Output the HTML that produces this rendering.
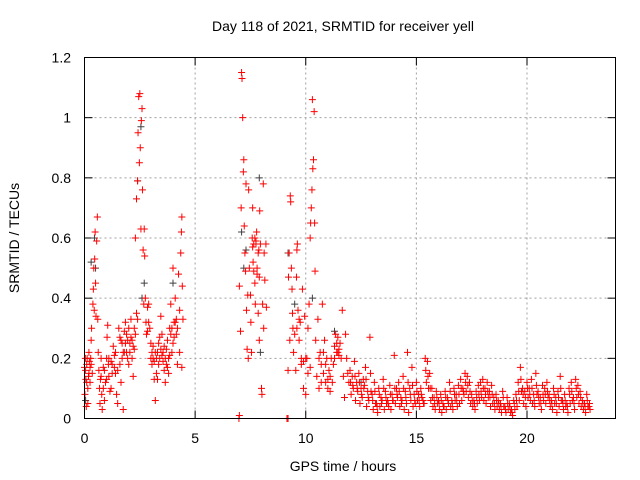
<!DOCTYPE html>
<html><head><meta charset="utf-8"><style>
body{margin:0;background:#fff}
svg{display:block;font-family:"Liberation Sans",sans-serif}
</style></head><body>
<svg id="chart" width="640" height="480">
<text x="343" y="31" font-size="14" text-anchor="middle">Day 118 of 2021, SRMTID for receiver yell</text>
<text x="343" y="471" font-size="14" text-anchor="middle">GPS time / hours</text>
<text transform="translate(19,238) rotate(-90)" font-size="14" text-anchor="middle">SRMTID / TECUs</text>
<g id="grid"></g>
<g id="ticks"></g>
<g id="dark"></g>
<g id="red"></g>
<rect x="84.5" y="57.5" width="531" height="361" fill="none" stroke="#000"/>
</svg>
<script>
const xTicks=[0,5,10,15,20];
const yTicks=[0,0.2,0.4,0.6,0.8,1,1.2];
const yTickLabels=["0","0.2","0.4","0.6","0.8","1","1.2"];
const redPoints=[[0,0.17],[0.02,0.08],[0.04,0.2],[0.06,0.13],[0.08,0.04],[0.1,0.18],[0.12,0.2],[0.15,0.1],[0.18,0.14],[0.2,0.22],[0.22,0.19],[0.25,0.12],[0.28,0.2],[0.3,0.26],[0.32,0.3],[0.35,0.15],[0.38,0.38],[0.4,0.43],[0.42,0.5],[0.44,0.36],[0.46,0.53],[0.48,0.62],[0.5,0.45],[0.52,0.34],[0.55,0.59],[0.58,0.67],[0.6,0.33],[0.62,0.22],[0.65,0.16],[0.68,0.1],[0.7,0.05],[0.72,0.13],[0.75,0.2],[0.78,0.08],[0.8,0.03],[0.85,0.1],[0.9,0.06],[0.95,0.12],[1.0,0.2],[1.02,0.27],[1.05,0.31],[1.08,0.18],[1.1,0.14],[1.15,0.09],[1.2,0.19],[1.25,0.15],[1.3,0.24],[1.35,0.21],[1.4,0.15],[1.45,0.08],[1.5,0.05],[1.55,0.3],[1.6,0.18],[1.65,0.12],[1.7,0.25],[1.75,0.03],[1.8,0.22],[1.85,0.32],[1.9,0.28],[1.95,0.26],[2.0,0.3],[2.05,0.25],[2.1,0.33],[2.15,0.2],[2.2,0.14],[2.25,0.23],[2.3,0.28],[2.35,0.35],[2.4,0.33],[0.15,0.05],[0.25,0.17],[0.9,0.16],[1.2,0.1],[1.35,0.17],[1.6,0.27],[1.7,0.2],[1.9,0.22],[2.0,0.18],[2.1,0.27],[2.2,0.24],[1.8,0.29],[0.05,0.16],[0.1,0.12],[0.2,0.15],[0.3,0.18],[0.75,0.14],[0.85,0.17],[1.0,0.13],[1.1,0.2],[1.25,0.18],[1.4,0.22],[1.5,0.16],[1.65,0.26],[1.75,0.22],[1.85,0.25],[1.95,0.2],[2.05,0.22],[2.15,0.26],[2.25,0.3],
[2.3,0.6],[2.35,0.73],[2.4,0.79],[2.42,0.95],[2.45,1.07],[2.48,0.85],[2.5,1.08],[2.52,0.9],[2.55,0.63],[2.57,0.99],[2.6,1.03],[2.62,0.76],[2.65,0.56],[2.68,0.38],[2.7,0.63],[2.72,0.54],[2.75,0.4],[2.78,0.32],[2.8,0.28],[2.85,0.37],[2.9,0.38],[2.95,0.3],[3.0,0.2],[3.05,0.18],[3.1,0.24],[3.15,0.13],[3.2,0.06],[3.25,0.15],[3.3,0.22],[3.35,0.25],[3.4,0.2],[3.45,0.34],[3.5,0.28],[3.55,0.19],[3.6,0.24],[3.65,0.12],[3.7,0.18],[3.75,0.26],[3.8,0.15],[3.85,0.3],[3.9,0.38],[3.95,0.22],[4.0,0.5],[4.05,0.32],[4.1,0.4],[4.15,0.28],[4.2,0.18],[4.25,0.48],[4.3,0.36],[4.35,0.55],[4.38,0.62],[4.4,0.67],[4.42,0.44],[4.45,0.33],[3.0,0.25],[3.1,0.2],[3.2,0.22],[3.3,0.13],[3.4,0.27],[3.5,0.21],[3.6,0.16],[3.7,0.23],[3.8,0.2],[3.9,0.28],[4.0,0.25],[4.1,0.32],[4.2,0.3],[4.3,0.22],[4.4,0.17],[2.9,0.32],[2.85,0.29],[3.05,0.22],[3.15,0.19],[3.25,0.2],[3.35,0.18],[3.45,0.23],[3.55,0.22],[3.65,0.2],[3.75,0.17],[3.85,0.21],[3.95,0.3],[4.05,0.27],[4.15,0.33],
[6.98,0.0],[7.0,0.01],[9.15,0.0],[9.2,0.0],
[7.0,0.44],[7.05,0.29],[7.08,0.7],[7.1,1.15],[7.12,1.13],[7.15,1.0],[7.18,0.82],[7.2,0.86],[7.22,0.64],[7.25,0.55],[7.28,0.49],[7.3,0.78],[7.32,0.36],[7.35,0.23],[7.38,0.41],[7.4,0.2],[7.42,0.76],[7.45,0.5],[7.5,0.41],[7.52,0.32],[7.55,0.22],[7.58,0.6],[7.6,0.7],[7.62,0.52],[7.65,0.58],[7.7,0.45],[7.72,0.38],[7.75,0.59],[7.78,0.62],[7.8,0.48],[7.85,0.35],[7.88,0.56],[7.9,0.26],[7.92,0.69],[7.95,0.58],[8.0,0.1],[8.02,0.08],[8.05,0.38],[8.08,0.78],[8.1,0.3],[8.12,0.55],[8.15,0.46],[8.2,0.58],[8.22,0.37],[7.6,0.57],[7.7,0.6],[7.8,0.5],[7.85,0.55],[7.75,0.58],[7.65,0.49],[7.9,0.47],
[9.2,0.16],[9.22,0.47],[9.25,0.55],[9.28,0.26],[9.3,0.74],[9.32,0.72],[9.35,0.5],[9.38,0.43],[9.4,0.35],[9.42,0.3],[9.45,0.22],[9.5,0.28],[9.55,0.16],[9.58,0.47],[9.6,0.56],[9.62,0.58],[9.65,0.36],[9.7,0.26],[9.75,0.32],[9.8,0.2],[9.85,0.43],[9.9,0.1],[9.95,0.34],[10.0,0.08],[10.05,0.2],[10.1,0.3],[10.15,0.38],[10.2,0.6],[10.22,0.65],[10.25,0.7],[10.28,0.76],[10.3,1.06],[10.32,0.83],[10.35,0.86],[10.38,1.02],[10.4,0.65],[10.42,0.49],[10.45,0.26],[10.5,0.14],[10.55,0.33],[10.6,0.1],[10.65,0.22],[10.7,0.18],[10.75,0.38],[10.8,0.15],[10.85,0.26],[10.9,0.12],[10.95,0.2],[11.0,0.1],[11.05,0.16],[11.1,0.09],[11.15,0.2],[11.2,0.12],[11.25,0.18],[11.3,0.24],[11.35,0.28],[11.4,0.22],[11.45,0.27],[11.5,0.21],[11.55,0.25],[11.6,0.2],[11.65,0.36],[11.7,0.14],[11.75,0.07],[11.8,0.28],[11.85,0.2],[11.9,0.15],[11.95,0.12],[9.6,0.3],[9.8,0.18],[10.0,0.2],[10.2,0.17],[10.6,0.2],[10.8,0.22],[11.0,0.13],[11.4,0.25],[11.5,0.23],[9.7,0.33],[9.9,0.19],[10.1,0.15],[10.7,0.12],[10.9,0.18],[11.1,0.14],[11.3,0.2],[11.45,0.22]];
const tailStart=12.0, tailStep=0.1;
const tailA=[.16,.14,.19,.12,.15,.1,.13,.17,.09,.27,.08,.12,.05,.1,.07,.13,.09,.06,.11,.08,.21,.1,.12,.07,.14,.09,.22,.1,.17,.08,.12,.08,.1,.06,.2,.19,.15,.1,.07,.09,.06,.08,.05,.09,.07,.12,.06,.1,.08,.11,.13,.1,.15,.14,.12,.08,.06,.09,.11,.12,.13,.1,.12,.09,.11,.07,.08,.06,.05,.09,.04,.07,.05,.03,.06,.08,.12,.17,.1,.09,.12,.1,.13,.08,.15,.09,.07,.11,.1,.12,.08,.06,.1,.07,.09,.14,.06,.08,.05,.1,.12,.07,.13,.11,.09,.06,.05,.08,.04];
const tailB=[.08,.1,.06,.09,.05,.07,.11,.04,.06,.09,.03,.05,.02,.04,.06,.03,.05,.04,.03,.06,.05,.07,.04,.06,.03,.05,.02,.06,.04,.05,.06,.04,.07,.05,.12,.1,.06,.04,.03,.05,.03,.02,.04,.03,.05,.04,.03,.06,.04,.05,.06,.08,.09,.07,.05,.04,.03,.05,.06,.07,.06,.05,.07,.04,.05,.03,.04,.03,.02,.04,.02,.03,.02,.01,.03,.04,.06,.09,.05,.04,.07,.06,.05,.04,.08,.05,.03,.06,.05,.07,.04,.03,.05,.02,.04,.06,.03,.04,.02,.05,.06,.03,.07,.05,.04,.03,.02,.04,.03];
const tailC=[.12,.11,.14,.1,.12,.08,.1,.13,.07,.15,.06,.09,.04,.08,.05,.1,.07,.05,.08,.06,.1,.08,.09,.05,.1,.07,.12,.08,.11,.06,.09,.06,.08,.05,.16,.14,.1,.07,.05,.07,.05,.06,.04,.07,.06,.09,.05,.08,.06,.08,.1,.09,.12,.11,.09,.06,.05,.07,.08,.09,.1,.08,.09,.07,.08,.05,.06,.05,.04,.07,.03,.05,.04,.02,.05,.06,.09,.13,.08,.07,.1,.08,.1,.06,.11,.07,.05,.08,.08,.09,.06,.05,.08,.05,.07,.1,.05,.06,.04,.08,.09,.05,.1,.08,.07,.05,.04,.06,.05];
const darkPoints=[[0.05,0.06],[0.3,0.52],[0.45,0.6],[0.5,0.5],[2.4,0.79],[2.55,0.97],[2.6,0.4],[2.7,0.45],[4.0,0.45],[7.1,0.62],[7.2,0.5],[7.3,0.56],[7.9,0.8],[7.95,0.22],[9.2,0.55],[9.5,0.38],[10.3,0.4],[11.3,0.29],[12.5,0.12],[16,0.06]];
const X=t=>84.5+t*(531/24), Y=v=>418.5-v*(361/1.2);
const NS="http://www.w3.org/2000/svg";
function mk(tag,attrs,parent){const e=document.createElementNS(NS,tag);for(const k in attrs)e.setAttribute(k,attrs[k]);parent.appendChild(e);return e;}
const grid=document.getElementById('grid'),ticks=document.getElementById('ticks');
xTicks.forEach(t=>{
 if(t>0){const g=mk('line',{x1:X(t),x2:X(t),y1:57.5,y2:418.5,stroke:'#a0a0a0','stroke-dasharray':'2,3'},grid);
 
 }
 mk('line',{x1:X(t),x2:X(t),y1:418.5,y2:410.5,stroke:'#000'},ticks);
 mk('line',{x1:X(t),x2:X(t),y1:57.5,y2:65.5,stroke:'#000'},ticks);
 const l=mk('text',{x:X(t),y:443,'font-size':14,'text-anchor':'middle'},ticks);l.textContent=t;
 
 
});
yTicks.forEach((v,i)=>{
 if(v>0&&v<1.2){const g=mk('line',{x1:84.5,x2:615.5,y1:Y(v),y2:Y(v),stroke:'#a0a0a0','stroke-dasharray':'2,3'},grid);
 
 }
 mk('line',{x1:84.5,x2:92.5,y1:Y(v),y2:Y(v),stroke:'#000'},ticks);
 mk('line',{x1:615.5,x2:607.5,y1:Y(v),y2:Y(v),stroke:'#000'},ticks);
 const l=mk('text',{x:71,y:Y(v)+5,'font-size':14,'text-anchor':'end'},ticks);l.textContent=yTickLabels[i];
 
 
});
function cross(t,v,col,parent){
 const x=X(t),y=Y(v);
 const p=mk('path',{d:`M${x-3.5} ${y}h7M${x} ${y-3.5}v7`,stroke:col,'stroke-width':1,fill:'none'},parent);
 
 
}
const dark=document.getElementById('dark'),red=document.getElementById('red');
darkPoints.forEach(p=>cross(p[0],p[1],'#404040',dark));
redPoints.forEach(p=>cross(p[0],p[1],'#ff0000',red));
tailA.forEach((v,i)=>cross(tailStart+i*tailStep,v,'#ff0000',red));
tailB.forEach((v,i)=>cross(tailStart+i*tailStep+0.05,v,'#ff0000',red));
tailC.forEach((v,i)=>cross(tailStart+i*tailStep+0.025,v,'#ff0000',red));
</script>
</body></html>
